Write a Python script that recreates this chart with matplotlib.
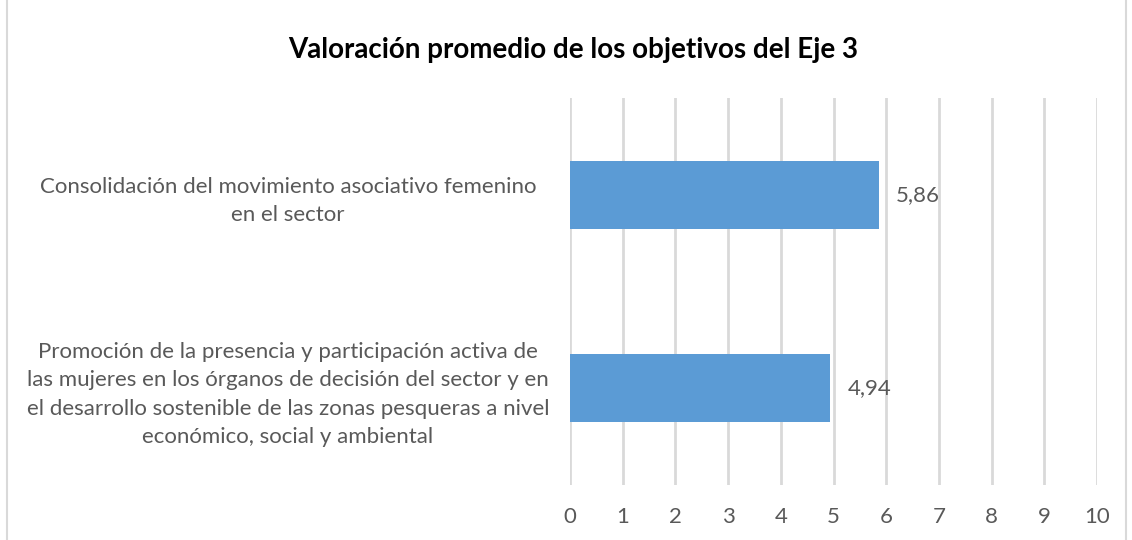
import matplotlib.pyplot as plt

plt.rcParams['font.family'] = ['Lato', 'DejaVu Sans']

categorias = ['Promoción de la presencia y participación activa de\nlas mujeres en los órganos de decisión del sector y en\nel desarrollo sostenible de las zonas pesqueras a nivel\neconómico, social y ambiental',
              'Consolidación del movimiento asociativo femenino\nen el sector']
valores = [4.94, 5.86]
etiquetas = ['4,94', '5,86']
ticks = list(range(0, 11))

gris = '#595959'

fig = plt.figure(figsize=(11.32, 5.4), dpi=100)
ax = fig.add_axes([570 / 1132, 1 - 485 / 540, 527 / 1132, 387 / 540])

ax.barh(range(len(valores)), valores, height=0.35, color='#5B9BD5', zorder=3)
for i, (v, t) in enumerate(zip(valores, etiquetas)):
    ax.text(v + 0.33, i, t, va='center', ha='left', fontsize=16, color=gris)

ax.set_xlim(0, 10)
ax.set_ylim(-0.5, 1.5)
ax.set_xticks(ticks)
ax.set_xticklabels([str(t) for t in ticks], fontsize=16, color=gris)
ax.set_yticks(range(len(categorias)))
ax.set_yticklabels(categorias, fontsize=16, color=gris, ha='center', linespacing=1.52)
ax.tick_params(axis='y', length=0, pad=203)
ax.tick_params(axis='x', length=0, pad=16)
ax.grid(axis='x', color='#D9D9D9', linewidth=2, zorder=0)
for s in ax.spines.values():
    s.set_visible(False)

fig.text(573 / 1132, 1 - 50 / 540, 'Valoración promedio de los objetivos del Eje 3',
         ha='center', va='center', fontsize=20, fontweight='bold', color='black')

# borde del gráfico
fig.add_artist(plt.Line2D([7 / 1132, 7 / 1132], [0, 1], color='#D9D9D9', linewidth=1.5))
fig.add_artist(plt.Line2D([1126 / 1132, 1126 / 1132], [0, 1], color='#D9D9D9', linewidth=1.5))

fig.savefig('out.png', dpi=100)
